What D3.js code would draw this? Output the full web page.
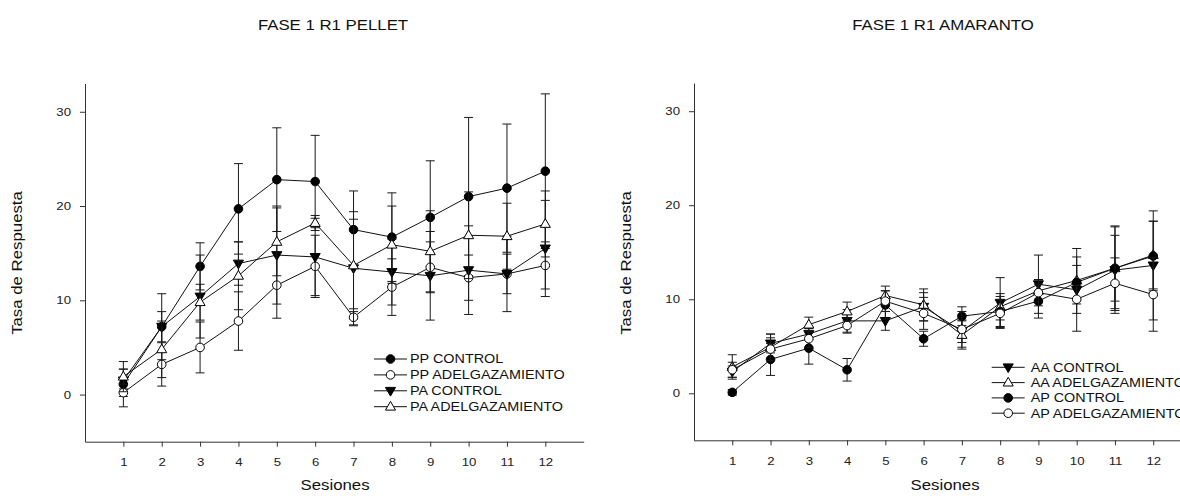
<!DOCTYPE html>
<html>
<head>
<meta charset="utf-8">
<script src="https://cdn.jsdelivr.net/npm/d3@7/dist/d3.min.js"></script>
<style>
  body { margin: 0; background: #fff; }
  svg { display: block; font-family: "Liberation Sans", Arial, sans-serif; }
</style>
</head>
<body>
<svg width="1180" height="498"></svg>
<script>
// sessions on the x axis
var sessions = [1, 2, 3, 4, 5, 6, 7, 8, 9, 10, 11, 12];
var xTicks = [1, 2, 3, 4, 5, 6, 7, 8, 9, 10, 11, 12];
var yTicks = [0, 10, 20, 30];

// FASE 1 R1 PELLET
var ppControl     = [1.1, 7.2, 13.6, 19.7, 22.8, 22.6, 17.5, 16.7, 18.8, 21.0, 21.9, 23.7];
var ppControlErr  = [2.4, 3.5, 2.5, 4.8, 5.5, 4.9, 4.1, 4.7, 6.0, 8.4, 6.8, 8.2];
var ppAdelg       = [0.2, 3.2, 5.0, 7.8, 11.6, 13.6, 8.2, 11.4, 13.5, 12.4, 12.8, 13.7];
var ppAdelgErr    = [0.4, 2.3, 2.7, 3.1, 3.5, 3.3, 0.9, 3.0, 2.7, 2.4, 2.1, 2.5];
var paControl     = [1.5, 7.2, 10.4, 13.9, 14.8, 14.6, 13.4, 13.0, 12.6, 13.2, 12.8, 15.5];
var paControlErr  = [1.2, 1.6, 4.4, 2.3, 5.2, 4.1, 6.0, 3.5, 4.7, 4.7, 4.0, 5.1];
var paAdelg       = [1.9, 4.8, 9.8, 12.6, 16.2, 18.2, 13.7, 15.9, 15.2, 16.9, 16.8, 18.1];
var paAdelgErr    = [0.8, 3.0, 1.9, 3.6, 3.6, 0.8, 4.9, 4.1, 4.3, 4.6, 3.5, 3.5];

// FASE 1 R1 AMARANTO
var aaControl     = [2.3, 5.3, 6.3, 7.7, 7.7, 9.2, 6.6, 9.6, 11.6, 11.0, 13.1, 13.6];
var aaControlErr  = [0.6, 1.0, 0.6, 1.2, 1.0, 1.5, 1.2, 2.7, 3.1, 4.4, 4.6, 5.8];
var aaAdelg       = [2.8, 4.9, 7.3, 8.7, 10.4, 9.4, 6.2, 9.2, 10.9, 12.0, 13.3, 14.7];
var aaAdelgErr    = [1.3, 1.4, 0.8, 1.0, 1.0, 1.7, 1.5, 1.4, 1.2, 2.5, 4.5, 3.6];
var apControl     = [0.1, 3.6, 4.8, 2.5, 9.4, 5.8, 8.2, 8.7, 9.8, 11.8, 13.3, 14.6];
var apControlErr  = [0.3, 1.7, 1.7, 1.2, 1.5, 0.8, 1.0, 1.6, 1.8, 1.8, 3.5, 3.7];
var apAdelg       = [2.5, 4.7, 5.8, 7.2, 9.8, 8.5, 6.8, 8.5, 10.7, 10.0, 11.7, 10.5];
var apAdelgErr    = [0.8, 1.2, 0.9, 0.8, 1.1, 1.7, 1.9, 1.5, 1.4, 1.5, 2.7, 3.9];

var svg = d3.select('svg');
svg.append('rect').attr('width', 1180).attr('height', 498).attr('fill', '#fff');

var SX = 1.2; // text in the picture is drawn a bit wide

function label(g, x, y, str, size, anchor, rot){
	var t = 'translate(' + x + ',' + y + ')' + (rot ? ' rotate(' + rot + ')' : '') + ' scale(' + SX + ',1)';
	return g.append('text')
		.attr('transform', t)
		.attr('font-size', size)
		.attr('text-anchor', anchor || 'middle')
		.attr('fill', '#111')
		.text(str);
}

function drawPanel(opt){
	var x = d3.scaleLinear().domain([0, 13]).range([opt.left, opt.left + 13 * opt.step]);
	var y = d3.scaleLinear().domain([-5, 33]).range([opt.bottom, opt.top]);
	var g = svg.append('g');

	label(g, opt.titleX, 30, opt.title, 14);
	label(g, opt.yLabelX, 263, 'Tasa de Respuesta', 14, 'middle', -90);
	label(g, opt.titleX + 2, 490, 'Sesiones', 14);

	var yAxis = g.append('g')
		.attr('transform', 'translate(' + opt.left + ',0)')
		.call(d3.axisLeft(y).tickValues(yTicks).tickSize(5).tickSizeOuter(0).tickFormat(d3.format('d')));
	yAxis.selectAll('text')
		.attr('x', -14 / SX)
		.attr('transform', 'scale(' + SX + ',1)')
		.attr('font-size', 11)
		.attr('font-family', '"Liberation Sans", Arial, sans-serif')
		.attr('fill', '#222');

	var xAxis = g.append('g')
		.attr('transform', 'translate(0,' + opt.bottom + ')')
		.call(d3.axisBottom(x).tickValues(xTicks).tickSize(5).tickSizeOuter(0).tickFormat(d3.format('d')));
	xAxis.selectAll('text')
		.attr('y', 16.5)
		.attr('transform', 'scale(' + SX + ',1)')
		.attr('font-size', 11)
		.attr('font-family', '"Liberation Sans", Arial, sans-serif')
		.attr('fill', '#222');
	g.selectAll('.domain, .tick line').attr('stroke', '#333');

	var line = d3.line()
		.x(function(d){return x(d.s)})
		.y(function(d){return y(d.v)});

	opt.series.forEach(function(se){
		var pts = sessions.map(function(s, i){return {s: s, v: se.values[i], e: se.errs[i]}});
		var eb = g.append('g').attr('stroke', '#1a1a1a').attr('stroke-width', 1);
		pts.forEach(function(d){
			var cx = x(d.s), hi = y(d.v + d.e), lo = y(d.v - d.e);
			eb.append('line').attr('x1', cx).attr('x2', cx).attr('y1', hi).attr('y2', lo);
			eb.append('line').attr('x1', cx - 4.5).attr('x2', cx + 4.5).attr('y1', hi).attr('y2', hi);
			eb.append('line').attr('x1', cx - 4.5).attr('x2', cx + 4.5).attr('y1', lo).attr('y2', lo);
		});
		g.append('path').datum(pts)
			.attr('d', line)
			.attr('fill', 'none')
			.attr('stroke', '#111')
			.attr('stroke-width', 1);
		pts.forEach(function(d){
			marker(g, se.shape, x(d.s), y(d.v));
		});
	});

	// legend
	opt.series.forEach(function(se, i){
		var ly = opt.legY + i * opt.legStep;
		g.append('line')
			.attr('x1', opt.legX).attr('x2', opt.legX + 33)
			.attr('y1', ly).attr('y2', ly)
			.attr('stroke', '#111');
		marker(g, se.shape, opt.legX + 16.5, ly);
		label(g, opt.legX + opt.legGap, ly + 4.3, se.name, 12, 'start');
	});
}

function marker(g, shape, cx, cy){
	if(shape == 'circleFilled' || shape == 'circleOpen'){
		g.append('circle')
			.attr('cx', cx).attr('cy', cy).attr('r', 4.3)
			.attr('fill', shape == 'circleFilled' ? '#000' : '#fff')
			.attr('stroke', '#000').attr('stroke-width', 1);
	} else {
		var down = shape == 'triDown';
		g.append('path')
			.attr('d', d3.symbol().type(d3.symbolTriangle).size(44)())
			.attr('transform', 'translate(' + cx + ',' + (cy + (down ? -0.5 : 0.5)) + ')' + (down ? ' rotate(180)' : ''))
			.attr('fill', down ? '#000' : '#fff')
			.attr('stroke', '#000').attr('stroke-width', 1);
	}
}

drawPanel({
	title: 'FASE 1 R1 PELLET', titleX: 333, yLabelX: 22,
	left: 85, step: 38.36, top: 83.5, bottom: 441.7,
	legX: 374, legY: 359, legStep: 15.9, legGap: 36,
	series: [
		{name: 'PP CONTROL', values: ppControl, errs: ppControlErr, shape: 'circleFilled'},
		{name: 'PP ADELGAZAMIENTO', values: ppAdelg, errs: ppAdelgErr, shape: 'circleOpen'},
		{name: 'PA CONTROL', values: paControl, errs: paControlErr, shape: 'triDown'},
		{name: 'PA ADELGAZAMIENTO', values: paAdelg, errs: paAdelgErr, shape: 'triUp'}
	]
});

drawPanel({
	title: 'FASE 1 R1 AMARANTO', titleX: 943, yLabelX: 631,
	left: 694, step: 38.27, top: 83, bottom: 440.3,
	legX: 991.7, legY: 367.3, legStep: 15.3, legGap: 39,
	series: [
		{name: 'AA CONTROL', values: aaControl, errs: aaControlErr, shape: 'triDown'},
		{name: 'AA ADELGAZAMIENTO', values: aaAdelg, errs: aaAdelgErr, shape: 'triUp'},
		{name: 'AP CONTROL', values: apControl, errs: apControlErr, shape: 'circleFilled'},
		{name: 'AP ADELGAZAMIENTO', values: apAdelg, errs: apAdelgErr, shape: 'circleOpen'}
	]
});
</script>
</body>
</html>
